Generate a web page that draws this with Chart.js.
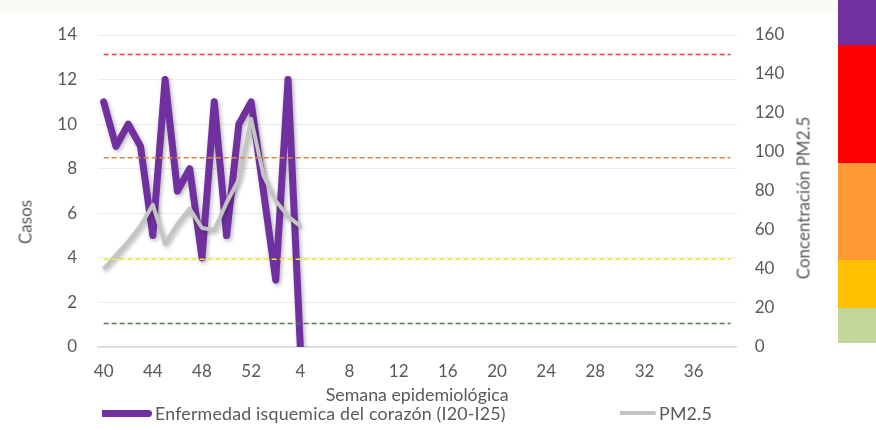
<!DOCTYPE html>
<html>
<head>
<meta charset="utf-8">
<script src="https://cdn.jsdelivr.net/npm/chart.js@4.4.1/dist/chart.umd.min.js"></script>
<style>
  body { margin: 0; background: #fff; }
  #wrap { position: relative; width: 876px; height: 430px; font-family: Lato, sans-serif; color: #595959; overflow: hidden; }
  #topband { position: absolute; left: 0; top: 0; width: 876px; height: 13px; background: #fbfaf5; }
  canvas { position: absolute; left: 0; top: 0; }
  .vtitle { position: absolute; font-size: 17px; white-space: nowrap; transform: translate(-50%, -50%) rotate(-90deg); }
  .band { position: absolute; left: 838px; width: 38px; }
  .leg { position: absolute; top: 403px; height: 20px; display: flex; align-items: center; font-size: 17.8px; white-space: nowrap; letter-spacing: 0.2px; }
  .leg i { display: inline-block; margin-right: 3px; }
</style>
</head>
<body>
<div id="wrap">
  <div id="topband"></div>
  <canvas id="myChart" width="876" height="430"></canvas>
  <div class="vtitle" style="left:25px; top:222px;">Casos</div>
  <div class="vtitle" style="left:803px; top:198px;">Concentración PM2.5</div>
  <div class="band" style="top:0; height:45px; background:#7030a0;"></div>
  <div class="band" style="top:45px; height:118px; background:#ff0000;"></div>
  <div class="band" style="top:163px; height:97px; background:#ff9933;"></div>
  <div class="band" style="top:260px; height:48px; background:#ffc000;"></div>
  <div class="band" style="top:308px; height:35px; background:#c4d79b;"></div>
  <div id="legend"></div>
</div>
<script>
// semanas epidemiologicas (40-52 de un año, 1-39 del siguiente)
const weeks = ['40', '41', '42', '43', '44', '45', '46', '47', '48', '49', '50', '51', '52',
  '1', '2', '3', '4', '5', '6', '7', '8', '9', '10', '11', '12', '13', '14', '15', '16', '17', '18', '19',
  '20', '21', '22', '23', '24', '25', '26', '27', '28', '29', '30', '31', '32', '33', '34', '35', '36', '37', '38', '39'];

const casos = [11, 9, 10, 9, 5, 12, 7, 8, 4, 11, 5, 10, 11, 7, 3, 12, 0];
const pm25 = [40, 47, 54, 62, 73, 53, 63, 71, 61, 60, 74, 86, 117, 88, 75, 67, 62];

// limites de PM2.5 (eje derecho)
const limites = [150, 97, 45, 12];
const limiteColores = ['#ee3b35', '#d8873f', '#eaec1c', '#4f7a4f'];

const txt = '#595959';
const font = { family: 'Lato, sans-serif', size: 17 };

const lineShadow = {
  id: 'lineShadow',
  beforeDatasetDraw(chart, args) {
    if (args.index > 1) return;
    const c = chart.ctx;
    c.save();
    c.shadowColor = 'rgba(0,0,0,0.3)';
    c.shadowBlur = 4;
    c.shadowOffsetX = 1.5;
    c.shadowOffsetY = 2;
  },
  afterDatasetDraw(chart, args) {
    if (args.index > 1) return;
    chart.ctx.restore();
  }
};

const datasets = [
  {
    label: 'Enfermedad isquemica del corazón (I20-I25)',
    data: casos,
    yAxisID: 'y',
    borderColor: '#7030a0',
    borderWidth: 7,
    borderJoinStyle: 'round',
    borderCapStyle: 'round',
    pointRadius: 0,
    order: 3
  },
  {
    label: 'PM2.5',
    data: pm25,
    yAxisID: 'y1',
    borderColor: '#c4c4c4',
    borderWidth: 4,
    borderJoinStyle: 'round',
    pointRadius: 0,
    order: 2
  }
];

limites.forEach((v, i) => {
  datasets.push({
    label: '',
    data: weeks.map(() => v),
    yAxisID: 'y1',
    borderColor: limiteColores[i],
    borderWidth: 1.5,
    borderDash: [5, 3],
    pointRadius: 0,
    order: 1
  });
});

const ctx = document.getElementById('myChart').getContext('2d');
const myChart = new Chart(ctx, {
  type: 'line',
  data: { labels: weeks, datasets: datasets },
  plugins: [lineShadow],
  options: {
    responsive: false,
    animation: false,
    layout: { padding: { top: 35, right: 49.3, bottom: 20, left: 0 } },
    plugins: { legend: { display: false }, tooltip: { enabled: false } },
    scales: {
      x: {
        offset: true,
        grid: { display: false, drawTicks: false },
        border: { display: true, color: '#d9d9d9', width: 1.5 },
        ticks: {
          autoSkip: false, maxRotation: 0, padding: 14.7, color: txt, font: font,
          callback: function (v, i) { return i % 4 === 0 ? this.getLabelForValue(v) : null; }
        },
        title: { display: true, text: 'Semana epidemiológica', color: txt, font: { family: 'Lato, sans-serif', size: 17.8 }, padding: { top: 0, bottom: 4 } },
        afterFit: (s) => { s.height = 63; }
      },
      y: {
        position: 'left',
        min: 0, max: 14,
        ticks: { stepSize: 2, padding: 20.5, color: txt, font: font },
        grid: { color: '#ebebeb', drawTicks: false },
        border: { display: false },
        afterFit: (s) => { s.width = 97.5; }
      },
      y1: {
        position: 'right',
        min: 0, max: 160,
        ticks: { stepSize: 20, padding: 18, color: txt, font: font },
        grid: { display: false, drawTicks: false },
        border: { display: false },
        afterFit: (s) => { s.width = 90; }
      }
    }
  }
});

// leyenda en html
const legendPos = [102, 620];
const legendEl = document.getElementById('legend');
myChart.data.datasets.filter(d => d.label).forEach((d, i) => {
  const item = document.createElement('div');
  item.className = 'leg';
  item.style.left = legendPos[i] + 'px';
  const w = i === 0 ? 50 : 36;
  item.innerHTML = '<i style="width:' + w + 'px;height:' + d.borderWidth + 'px;background:' + d.borderColor +
    ';border-radius:0 4px 4px 0"></i>' + d.label;
  legendEl.appendChild(item);
});
</script>
</body>
</html>
